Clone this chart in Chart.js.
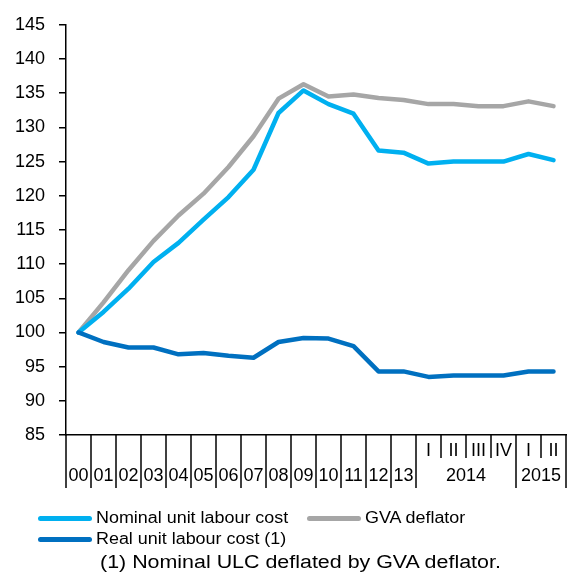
<!DOCTYPE html>
<html>
<head>
<meta charset="utf-8">
<script src="https://cdn.jsdelivr.net/npm/chart.js@4"></script>
<style>
  html, body { margin: 0; padding: 0; background: #fff; overflow: hidden; }
  #wrap { position: relative; width: 576px; height: 576px; }
  canvas { position: absolute; left: 0; top: 0; }
  .lg-item { position: absolute; height: 20px; display: flex; align-items: center; white-space: nowrap; }
  .lg-line { width: 54px; height: 5px; border-radius: 3px; margin-right: 4px; }
  .lg-text { font-family: "Liberation Sans", Arial, sans-serif; font-size: 16px; color: #000; transform: scaleX(1.12); transform-origin: left center; }
  #note { position: absolute; top: 552px; left: 0; width: 601px; text-align: center; }
  #note span { display: inline-block; font-family: "Liberation Sans", Arial, sans-serif; font-size: 18px; color: #000; transform: scaleX(1.19); transform-origin: center center; white-space: nowrap; }
</style>
</head>
<body>
<div id="wrap">
  <canvas id="c" width="576" height="576"></canvas>
  <div id="legend"></div>
  <div id="note"><span>(1) Nominal ULC deflated by GVA deflator.</span></div>
</div>
<script>
// ---- data ----
const periodLabels = ['00','01','02','03','04','05','06','07','08','09','10','11','12','13','I','II','III','IV','I','II'];
const periodYear   = [null,null,null,null,null,null,null,null,null,null,null,null,null,null,'2014','2014','2014','2014','2015','2015'];
const seriesNames  = ['Nominal unit labour cost', 'GVA deflator', 'Real unit labour cost (1)'];
const nominalULC   = [100, 103.0, 106.4, 110.3, 113.1, 116.5, 119.8, 123.8, 132.1, 135.4, 133.4, 132.0, 126.6, 126.3, 124.7, 125.0, 125.0, 125.0, 126.1, 125.2];
const gvaDeflator  = [100, 104.4, 109.1, 113.4, 117.1, 120.3, 124.2, 128.7, 134.2, 136.3, 134.5, 134.8, 134.3, 134.0, 133.4, 133.4, 133.1, 133.1, 133.8, 133.1];
const realULC      = [100, 98.6, 97.8, 97.8, 96.8, 97.0, 96.6, 96.3, 98.6, 99.2, 99.1, 98.0, 94.3, 94.3, 93.5, 93.7, 93.7, 93.7, 94.3, 94.3];
const yMin = 85, yMax = 145, yStep = 5;

const colors = ['#00B0F0', '#A6A6A6', '#0070C0'];
const FONT = '"Liberation Sans", Arial, sans-serif';

const periodAxis = {
  id: 'periodAxis',
  afterDraw(chart) {
    const xs = chart.scales.x;
    const ctx = chart.ctx;
    const n = periodLabels.length;
    const w = xs.getPixelForValue(1) - xs.getPixelForValue(0);
    const y0 = xs.top;
    ctx.save();
    ctx.strokeStyle = '#000';
    ctx.lineWidth = 1.5;
    for (let i = 0; i <= n; i++) {
      const px = i < n ? xs.getPixelForValue(i) - w / 2 : xs.getPixelForValue(n - 1) + w / 2;
      const inner = i > 0 && i < n && periodYear[i] && periodYear[i] === periodYear[i - 1];
      ctx.beginPath();
      ctx.moveTo(px, y0);
      ctx.lineTo(px, y0 + (inner ? 23 : 53));
      ctx.stroke();
    }
    ctx.fillStyle = '#000';
    ctx.font = '18px ' + FONT;
    ctx.textAlign = 'center';
    ctx.textBaseline = 'middle';
    let i = 0;
    while (i < n) {
      if (!periodYear[i]) {
        ctx.fillText(periodLabels[i], xs.getPixelForValue(i), y0 + 41);
        i++;
      } else {
        let j = i;
        while (j + 1 < n && periodYear[j + 1] === periodYear[i]) j++;
        for (let k = i; k <= j; k++) ctx.fillText(periodLabels[k], xs.getPixelForValue(k), y0 + 16);
        ctx.fillText(periodYear[i], (xs.getPixelForValue(i) + xs.getPixelForValue(j)) / 2, y0 + 41);
        i = j + 1;
      }
    }
    ctx.restore();
  }
};

const seriesData = [nominalULC, gvaDeflator, realULC];
const chart = new Chart(document.getElementById('c'), {
  type: 'line',
  data: {
    labels: periodLabels,
    datasets: seriesData.map((d, k) => ({
      label: seriesNames[k],
      data: d,
      borderColor: colors[k],
      backgroundColor: colors[k],
      borderWidth: 4.5,
      borderCapStyle: 'round',
      borderJoinStyle: 'round',
      pointRadius: 0,
      tension: 0,
      order: k === 2 ? 0 : (k === 0 ? 1 : 2)
    }))
  },
  options: {
    responsive: false,
    animation: false,
    devicePixelRatio: 1,
    layout: { padding: { left: 0, right: 10, top: 18.6, bottom: 86 } },
    plugins: { legend: { display: false }, tooltip: { enabled: false } },
    scales: {
      x: {
        offset: true,
        ticks: { display: false },
        grid: { display: false },
        border: { display: true, color: '#000', width: 1.5 },
        afterFit: s => { s.height = 55; }
      },
      y: {
        min: yMin, max: yMax,
        ticks: { stepSize: yStep, color: '#000', padding: 14, font: { family: FONT, size: 18 } },
        grid: { display: true, drawOnChartArea: false, drawTicks: true, tickLength: 7, color: '#000', lineWidth: 1.5 },
        border: { display: true, color: '#000', width: 1.5 },
        afterFit: s => { s.width = 66; }
      }
    }
  },
  plugins: [periodAxis]
});

// HTML legend built from the chart's datasets
const legendPos = [{ left: 38, top: 508 }, { left: 307, top: 508 }, { left: 38, top: 529 }];
const lg = document.getElementById('legend');
chart.data.datasets.forEach((ds, k) => {
  const item = document.createElement('div');
  item.className = 'lg-item';
  item.style.left = legendPos[k].left + 'px';
  item.style.top = legendPos[k].top + 'px';
  const line = document.createElement('span');
  line.className = 'lg-line';
  line.style.background = ds.borderColor;
  const txt = document.createElement('span');
  txt.className = 'lg-text';
  txt.textContent = ds.label;
  item.appendChild(line);
  item.appendChild(txt);
  lg.appendChild(item);
});
</script>
</body>
</html>
